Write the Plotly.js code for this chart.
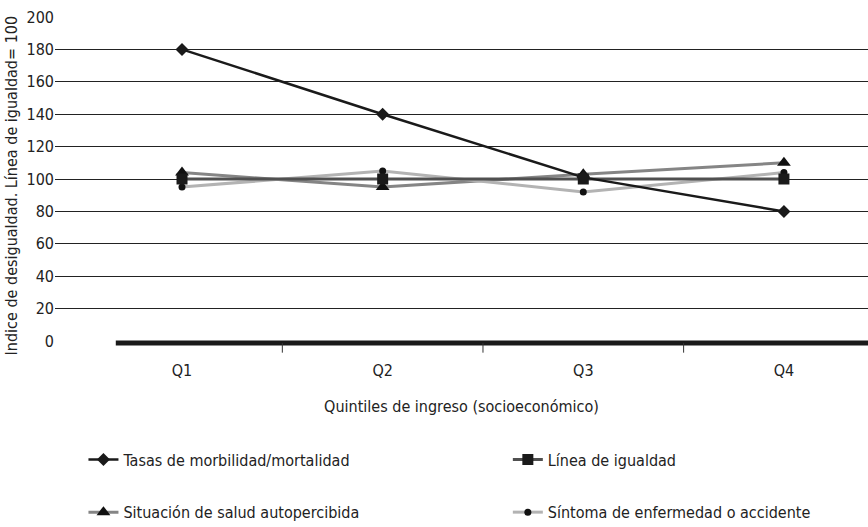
<!DOCTYPE html>
<html>
<head>
<meta charset="utf-8">
<script src="https://cdn.plot.ly/plotly-3.0.1.min.js"></script>
<style>
  html, body { margin: 0; padding: 0; background: #fff; overflow: hidden; }
  #chart { width: 868px; height: 527px; }
</style>
</head>
<body>
<div id="chart"></div>
<script>
// Quintiles de ingreso
const quintiles = ['Q1', 'Q2', 'Q3', 'Q4'];

// Índices de desigualdad por indicador (línea de igualdad = 100)
const tasasMorbMort   = [180, 140, 101, 80];
const lineaIgualdad   = [100, 100, 100, 100];
const situacionSalud  = [104, 95, 103, 110];
const sintomaEnfAcc   = [95, 105, 92, 104];

const seriesNames = [
  'Tasas de morbilidad/mortalidad',
  'Línea de igualdad',
  'Situación de salud autopercibida',
  'Síntoma de enfermedad o accidente'
];

const FONT = '"Liberation Sans Narrow", "DejaVu Sans Condensed", "Arial Narrow", sans-serif';

const traces = [
  {
    name: seriesNames[2], x: quintiles, y: situacionSalud, type: 'scatter', mode: 'lines+markers',
    line: { color: '#858585', width: 3 },
    marker: { symbol: 'triangle-up', size: 12, color: '#111' },
    legend: 'legend3'
  },
  {
    name: seriesNames[3], x: quintiles, y: sintomaEnfAcc, type: 'scatter', mode: 'lines+markers',
    line: { color: '#b3b3b3', width: 3 },
    marker: { symbol: 'circle', size: 7, color: '#111' },
    legend: 'legend4'
  },
  {
    name: seriesNames[1], x: quintiles, y: lineaIgualdad, type: 'scatter', mode: 'lines+markers',
    line: { color: '#505050', width: 3 },
    marker: { symbol: 'square', size: 11, color: '#1a1a1a' },
    legend: 'legend2'
  },
  {
    name: seriesNames[0], x: quintiles, y: tasasMorbMort, type: 'scatter', mode: 'lines+markers',
    line: { color: '#1a1a1a', width: 2.5 },
    marker: { symbol: 'diamond', size: 10, color: '#1a1a1a' },
    legend: 'legend'
  }
];

// Heavy baseline and boundary tick marks between quintiles
const shapes = [{
  type: 'line', xref: 'x', yref: 'paper',
  x0: -0.33, x1: quintiles.length + 0.5, y0: -0.006, y1: -0.006,
  line: { color: '#1a1a1a', width: 5 }
}];
for (let i = 0; i < quintiles.length - 1; i++) {
  shapes.push({
    type: 'line', xref: 'x', yref: 'paper',
    x0: i + 0.5, x1: i + 0.5, y0: -0.006, y1: -0.036,
    line: { color: '#333', width: 1 }
  });
}

const legendBase = {
  orientation: 'h', xanchor: 'left', yanchor: 'middle', yref: 'container',
  bgcolor: 'rgba(0,0,0,0)', font: { family: FONT, size: 16, color: '#222' },
  itemwidth: 30
};

const layout = {
  width: 868, height: 527,
  margin: { l: 55, r: 0, t: 17, b: 186 },
  paper_bgcolor: '#fff', plot_bgcolor: '#fff',
  font: { family: FONT, size: 16, color: '#222' },
  xaxis: {
    type: 'category',
    range: [-0.633, 3.419],
    showgrid: false, zeroline: false, showline: false,
    ticks: '', ticklabelstandoff: 18,
    tickfont: { family: FONT, size: 16, color: '#222' },
    title: { text: 'Quintiles de ingreso (socioeconómico)', standoff: 21,
             font: { family: FONT, size: 16, color: '#222' } }
  },
  yaxis: {
    range: [0, 200], dtick: 20,
    showgrid: true, gridcolor: '#222', gridwidth: 1,
    zeroline: false, showline: false, ticks: '',
    tickfont: { family: FONT, size: 16, color: '#222' }
  },
  shapes: shapes,
  annotations: [{
    text: 'Indice de desigualdad. Línea de igualdad= 100',
    xref: 'paper', yref: 'paper', x: -0.053, y: 0.48,
    xanchor: 'center', yanchor: 'middle', textangle: -90, showarrow: false,
    font: { family: FONT, size: 16, color: '#222' }
  }],
  showlegend: true,
  legend:  Object.assign({}, legendBase, { x: 0.035, y: 0.128 }),
  legend2: Object.assign({}, legendBase, { x: 0.557, y: 0.128 }),
  legend3: Object.assign({}, legendBase, { x: 0.035, y: 0.028 }),
  legend4: Object.assign({}, legendBase, { x: 0.557, y: 0.028 })
};

Plotly.newPlot('chart', traces, layout, { displayModeBar: false, staticPlot: true });
</script>
</body>
</html>
